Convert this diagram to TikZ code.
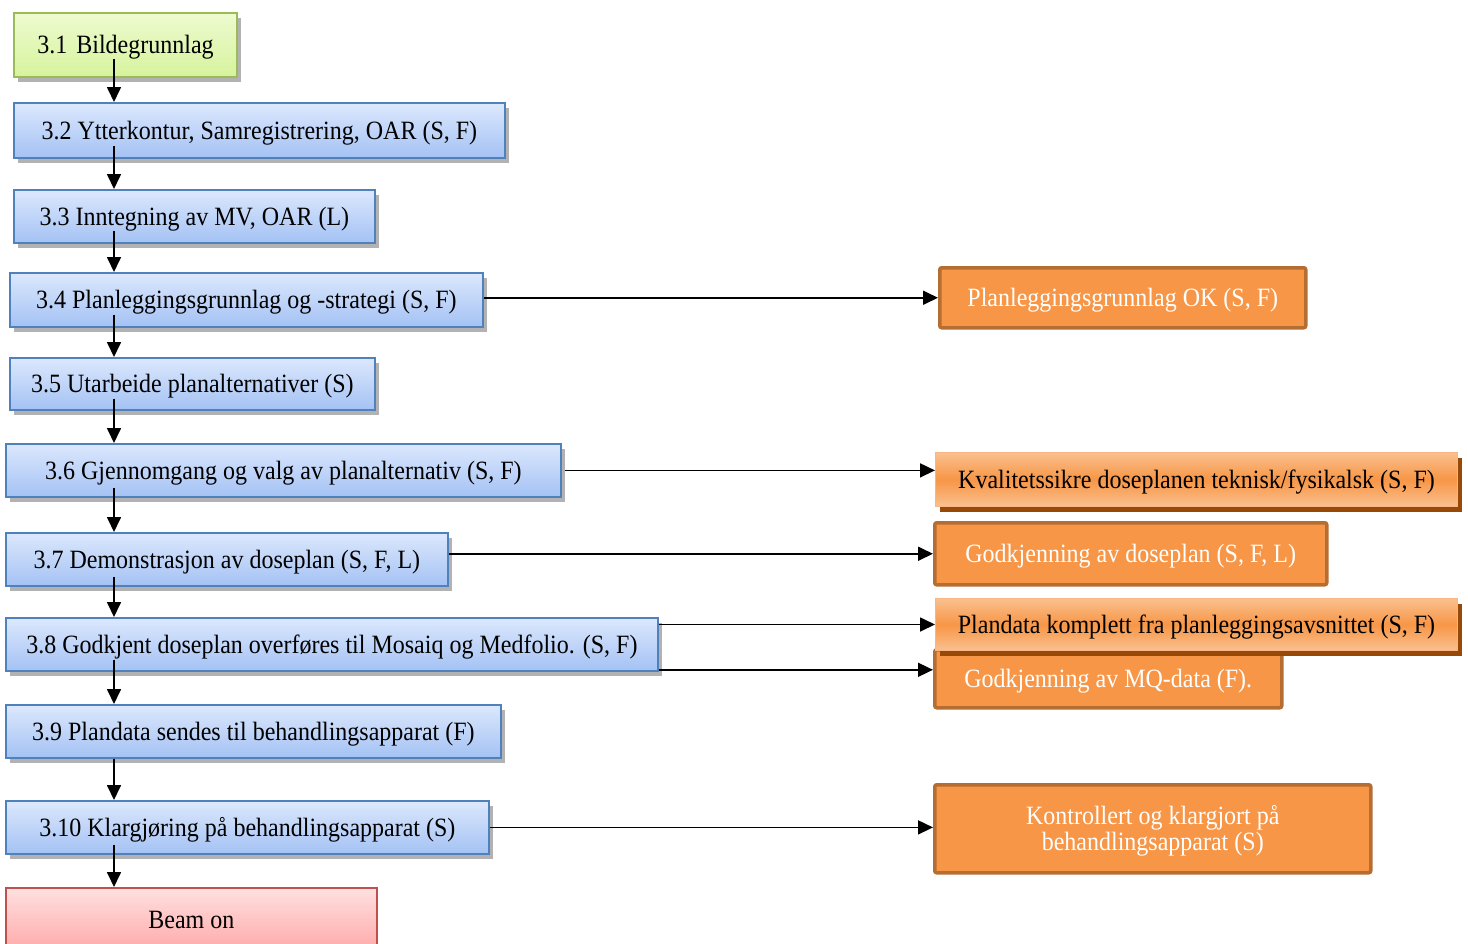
\documentclass[tikz,border=0pt]{standalone}
\usepackage{fontspec}
\usepackage{graphicx}
\setmainfont{Liberation Serif}
\usetikzlibrary{arrows.meta,shadows,calc}
\definecolor{bluedge}{HTML}{4F81BD}
\definecolor{bluetop}{HTML}{DCE8FD}
\definecolor{bluebot}{HTML}{A4C2F4}
\definecolor{greenedge}{HTML}{9BBB59}
\definecolor{greentop}{HTML}{EEFBD0}
\definecolor{greenbot}{HTML}{D6F39C}
\definecolor{rededge}{HTML}{C0504D}
\definecolor{redtop}{HTML}{FFE0E0}
\definecolor{redbot}{HTML}{FFA8A8}
\definecolor{orfill}{HTML}{F79646}
\definecolor{oredge}{HTML}{B66D31}
\definecolor{orshadow}{HTML}{984807}
\definecolor{orlight}{HTML}{FAC08F}
\definecolor{orthin}{HTML}{FAB584}
\newcommand\tx[1]{\raisebox{-2.5pt}[\height][\depth]{\scalebox{1}[1.1]{#1}}}
\tikzset{
  base/.style={anchor=north west, inner sep=0pt, align=center,
    font=\fontsize{24}{28}\selectfont},
  gshadow/.style={drop shadow={shadow xshift=4pt,shadow yshift=-5pt,fill=black,opacity=0.3}},
  bluebox/.style={base, draw=bluedge, line width=1.8pt, top color=bluetop, bottom color=bluebot, gshadow},
  greenbox/.style={base, draw=greenedge, line width=2pt, top color=greentop, bottom color=greenbot, gshadow},
  redbox/.style={base, draw=rededge, line width=1.8pt, top color=redtop, bottom color=redbot},
  orbox/.style={base, draw=oredge, line width=3.5pt, fill=orfill, rounded corners=2pt, text=white},
  orgrad/.style={base, draw=orthin, line width=1pt, top color=orlight, bottom color=orlight, middle color=orfill,
    drop shadow={shadow xshift=4pt,shadow yshift=-5pt,fill=orshadow,opacity=1}},
  arr/.style={line width=1.7pt, -{Triangle[length=15pt,width=14pt]}},
}
\begin{document}
\begin{tikzpicture}[x=1pt,y=-1pt]
\useasboundingbox (0,0) rectangle (1468,943);
\clip (0,0) rectangle (1468,943);
\coordinate (vx) at (114,0);
% left column
\node[greenbox, minimum width=223pt, minimum height=64pt] (b31) at (13,12) {\tx{3.1\hspace{3pt} Bildegrunnlag}};
\node[bluebox, minimum width=491pt, minimum height=55pt] (b32) at (13,102) {\tx{3.2 Ytterkontur, Samregistrering, OAR (S, F)}};
\node[bluebox, minimum width=361pt, minimum height=53pt] (b33) at (13,189) {\tx{3.3 Inntegning av MV, OAR (L)}};
\node[bluebox, minimum width=473pt, minimum height=54pt] (b34) at (9,272) {\tx{3.4 Planleggingsgrunnlag og -strategi (S, F)}};
\node[bluebox, minimum width=365pt, minimum height=52pt] (b35) at (9,357) {\tx{3.5 Utarbeide planalternativer (S)}};
\node[bluebox, minimum width=555pt, minimum height=53pt] (b36) at (5,443) {\tx{3.6 Gjennomgang og valg av planalternativ (S, F)}};
\node[bluebox, minimum width=442pt, minimum height=53pt] (b37) at (5,532) {\tx{3.7 Demonstrasjon av doseplan (S, F, L)}};
\node[bluebox, minimum width=652pt, minimum height=53pt] (b38) at (5,617) {\tx{3.8 Godkjent doseplan overføres til Mosaiq og Medfolio. (S, F)}};
\node[bluebox, minimum width=495pt, minimum height=53pt] (b39) at (5,704) {\tx{3.9 Plandata sendes til behandlingsapparat (F)}};
\node[bluebox, minimum width=483pt, minimum height=53pt] (b310) at (5,800) {\tx{3.10 Klargjøring på behandlingsapparat (S)}};
\node[redbox, minimum width=371pt, minimum height=64pt] (beam) at (5,887) {\raisebox{6pt}{\tx{Beam on}}};
% right column
\node[orbox, minimum width=366pt, minimum height=60pt] (ok) at (938,266) {\tx{Planleggingsgrunnlag OK (S, F)}};
\node[orgrad, minimum width=522pt, minimum height=54pt] (kv) at (935,452) {\tx{Kvalitetssikre doseplanen teknisk/fysikalsk (S, F)}};
\node[orbox, minimum width=392pt, minimum height=62pt] (gd) at (933,521) {\tx{Godkjenning av doseplan (S, F, L)}};
\node[orbox, minimum width=347pt, minimum height=58pt] (mq) at (933,648) {\raisebox{-8pt}{\tx{Godkjenning av MQ-data (F).}}};
\node[orgrad, minimum width=522pt, minimum height=52pt] (pd) at (935,598) {\tx{Plandata komplett fra planleggingsavsnittet (S, F)}};
\node[orbox, minimum width=436pt, minimum height=88pt] (ko) at (933,783) {\tx{Kontrollert og klargjort på}\\[-2pt]\tx{behandlingsapparat (S)}};
% vertical connectors
\draw[arr] ([yshift=19pt]b31.south -| vx) -- (b32.north -| vx);
\draw[arr] ([yshift=13pt]b32.south -| vx) -- (b33.north -| vx);
\draw[arr] ([yshift=13pt]b33.south -| vx) -- (b34.north -| vx);
\draw[arr] ([yshift=13pt]b34.south -| vx) -- (b35.north -| vx);
\draw[arr] ([yshift=12pt]b35.south -| vx) -- (b36.north -| vx);
\draw[arr] ([yshift=10pt]b36.south -| vx) -- (b37.north -| vx);
\draw[arr] ([yshift=10pt]b37.south -| vx) -- (b38.north -| vx);
\draw[arr] ([yshift=12pt]b38.south -| vx) -- (b39.north -| vx);
\draw[arr] (b39.south -| vx) -- (b310.north -| vx);
\draw[arr] ([yshift=10pt]b310.south -| vx) -- (beam.north -| vx);
% horizontal connectors
\draw[arr] (b34.east |- ok.west) -- (ok.west);
\draw[arr] ([xshift=3pt]b36.east) -- (b36.east -| kv.west);
\draw[arr] (b37.east |- gd.west) -- (gd.west);
\draw[arr] (b38.east |- pd.west) -- (pd.west);
\draw[arr] ([yshift=2pt]b38.south east) -- ([yshift=2pt]b38.south east -| mq.west);
\draw[arr] (b310.east) -- (b310.east -| ko.west);
\end{tikzpicture}
\end{document}
